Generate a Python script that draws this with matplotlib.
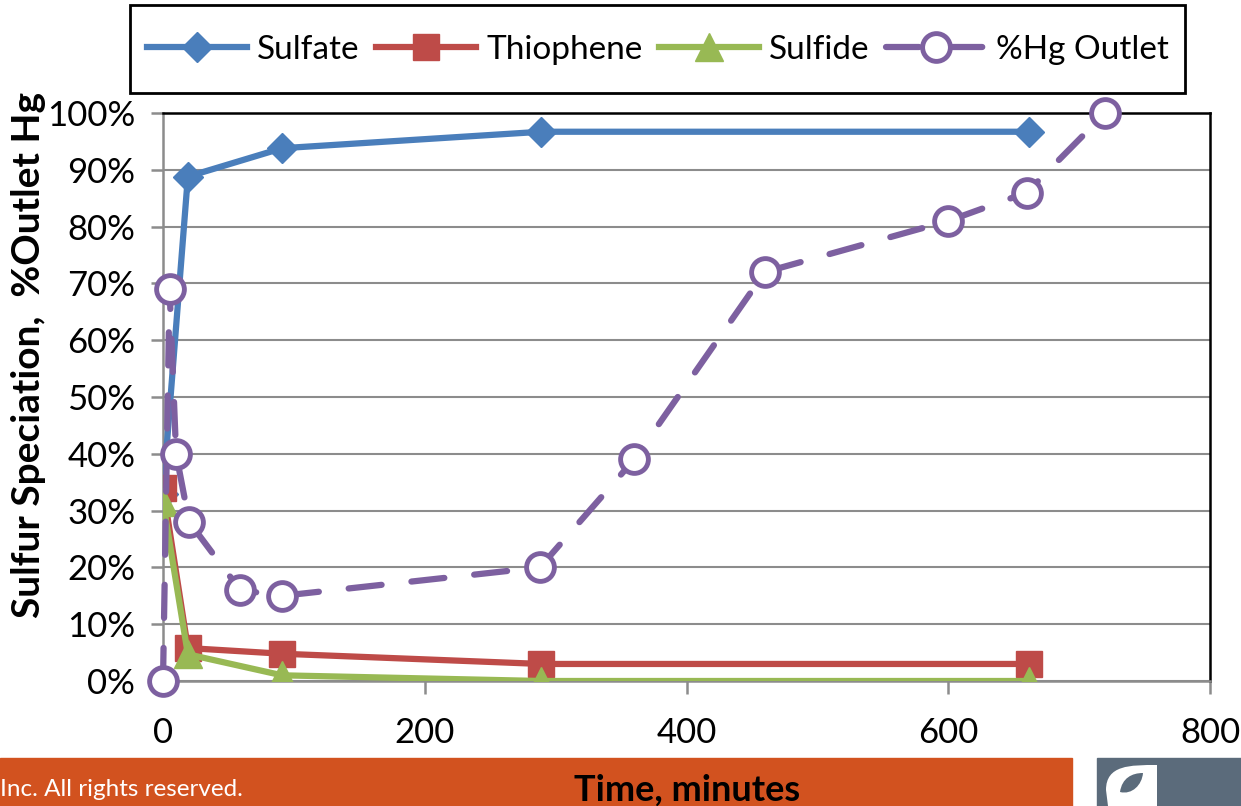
import matplotlib.pyplot as plt
from matplotlib.patches import Rectangle, PathPatch
from matplotlib.path import Path
from matplotlib.ticker import PercentFormatter

# data
t_sulfur = [0, 19, 91, 289, 662]
sulfate = [33, 88.8, 93.8, 96.7, 96.7]
thiophene = [34, 5.8, 4.8, 3, 3]
sulfide = [31.5, 4.7, 1, 0, 0]

t_hg = [0, 5, 10, 20, 59, 91, 288, 360, 460, 600, 660, 720]
hg_outlet = [0, 69, 40, 28, 16, 15, 20, 39, 72, 81, 86, 100]

xticks = [0, 200, 400, 600, 800]

plt.rcParams['font.family'] = ['Lato', 'DejaVu Sans']

W, H = 1241, 806
fig = plt.figure(figsize=(W / 100, H / 100), dpi=100)
ax = fig.add_axes([163 / W, 125 / H, 1047 / W, 568 / H])

lw = 4.5
ax.plot(t_sulfur, sulfate, color='#4A7EBB', lw=lw, marker='D', ms=15,
        label='Sulfate', zorder=3)
ax.plot(t_sulfur, thiophene, color='#BE4B48', lw=lw, marker='s', ms=19,
        label='Thiophene', zorder=3)
ax.plot(t_sulfur, sulfide, color='#98B954', lw=lw, marker='^', ms=20,
        label='Sulfide', zorder=3)
ax.plot(t_hg, hg_outlet, color='#7D60A0', lw=lw, marker='o', ms=20,
        mfc='white', mew=3.5, dashes=(5.3, 4.8), dash_capstyle='round',
        label='%Hg Outlet', zorder=4, clip_on=False)

ax.set_xlim(0, 800)
ax.set_ylim(0, 100)
ax.set_xticks(xticks)
ax.set_yticks(range(0, 101, 10))
ax.yaxis.set_major_formatter(PercentFormatter(decimals=0))
ax.grid(axis='y', color='#8C8C8C', lw=1.5)
ax.set_axisbelow(True)

for s in ['left', 'bottom']:
    ax.spines[s].set_color('#8C8C8C')
    ax.spines[s].set_linewidth(1.8)
for s in ['top', 'right']:
    ax.spines[s].set_color('black')
    ax.spines[s].set_linewidth(1.8)

ax.tick_params(axis='both', labelsize=25, length=9, width=1.8, color='#8C8C8C')
ax.tick_params(axis='x', pad=17)
ax.tick_params(axis='y', pad=11)

fig.text(29 / W, (H - 355) / H, 'Sulfur Speciation,  %Outlet Hg',
         rotation=90, fontsize=28, fontweight='bold', ha='center', va='center')

# legend box drawn by hand (Excel pads it more vertically than sideways)
fig.patches.append(Rectangle((130 / W, 1 - 93 / H), 1055 / W, 88 / H,
                             transform=fig.transFigure, fill=False,
                             edgecolor='black', lw=2, zorder=5))
fig.legend(loc='center', bbox_to_anchor=(658 / W, 1 - 50 / H),
           ncol=4, fontsize=24, frameon=False,
           handlelength=3.0, columnspacing=0.5, handletextpad=0.3,
           borderpad=0, borderaxespad=0)

# footer banner
fig.patches.append(Rectangle((0, 0), 1072 / W, 48 / H, transform=fig.transFigure,
                             color='#D2521F', zorder=0))
fig.patches.append(Rectangle((1097 / W, 0), 144 / W, 48 / H,
                             transform=fig.transFigure, color='#5B6B7B', zorder=0))


def px_path(pts, codes):
    return Path([(x / W, (H - y) / H) for x, y in pts], codes)


M, L, C, Z = Path.MOVETO, Path.LINETO, Path.CURVE4, Path.CLOSEPOLY
leaf = px_path([(1108, 806), (1106, 790), (1106, 765), (1130, 765), (1157, 765),
                (1157, 765), (1157, 790), (1157, 806), (1108, 806)],
               [M, L, C, C, L, L, L, L, Z])
fig.patches.append(PathPatch(leaf, transform=fig.transFigure, color='white',
                             lw=0, zorder=1))
hole = px_path([(1120, 792), (1122, 778), (1132, 773), (1143, 773), (1142, 785),
                (1132, 795), (1120, 792)],
               [M, C, C, C, C, C, C])
fig.patches.append(PathPatch(hole, transform=fig.transFigure, color='#5B6B7B',
                             lw=0, zorder=2))

fig.text(0, 17 / H, 'Inc. All rights reserved.', color='white',
         fontsize=17.5, ha='left', va='center')
fig.text(687 / W, 16 / H, 'Time, minutes', fontsize=26,
         fontweight='bold', ha='center', va='center')

fig.savefig('out.png', dpi=100)
